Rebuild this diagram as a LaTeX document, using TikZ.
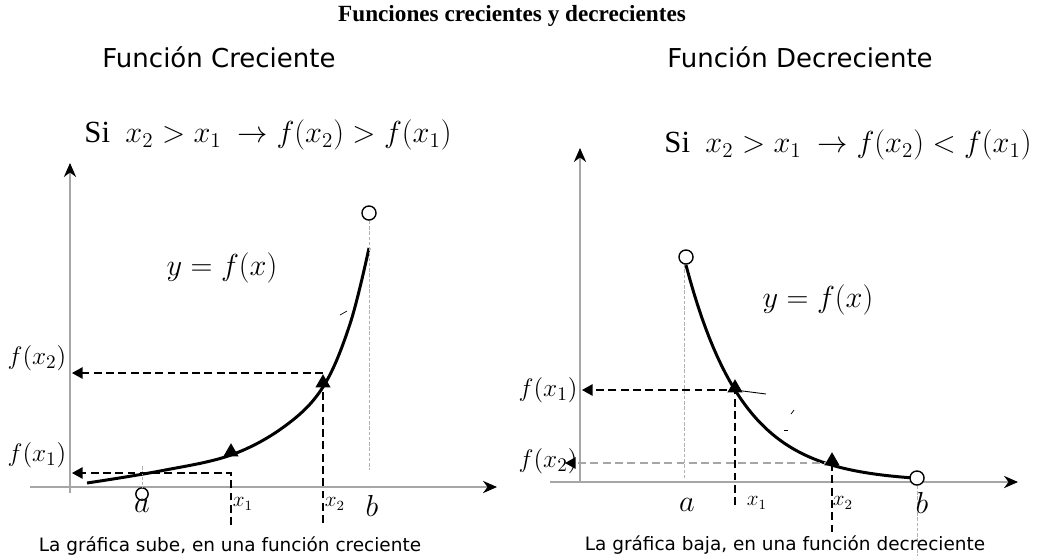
\documentclass[tikz,border=0pt]{standalone}
\usepackage{fontspec}
\setmainfont{Liberation Serif}
\newfontfamily\verdana{DejaVu Sans}
\usetikzlibrary{arrows.meta,shapes.geometric}
\tikzset{
  eje/.style={gray!70,line width=0.6pt},
  punta/.style={-{Stealth[black,length=8pt,width=7pt]}},
  curva/.style={line width=1.7pt},
  guia/.style={dashed,dash pattern=on 4.5pt off 2.5pt,line width=0.7pt},
  guiagris/.style={gray!70,dashed,dash pattern=on 4.5pt off 2.5pt,line width=0.7pt},
  punteada/.style={gray!60,dash pattern=on 2pt off 1pt,line width=0.4pt},
  flecha/.style={-{Triangle[black,length=6pt,width=6.5pt]}},
  marca/.style={regular polygon,regular polygon sides=3,fill,inner sep=0pt,minimum size=10pt},
  hueco/.style={circle,draw,line width=0.8pt,fill=white,inner sep=0pt,minimum size=8pt},
  encabezado/.style={font=\verdana\fontsize{14.8}{17}\selectfont},
  pie/.style={font=\verdana\fontsize{10.5}{12}\selectfont},
  regla/.style={font=\fontsize{17.5}{20}\selectfont},
  etiq/.style={font=\fontsize{16.5}{19}\selectfont},
  sub/.style={font=\fontsize{12}{14}\selectfont,inner sep=1pt},
  fx/.style={font=\fontsize{15}{17}\selectfont,inner sep=1pt}
}
\begin{document}
\begin{tikzpicture}[x=0.02cm,y=-0.02cm]
\useasboundingbox (0,0) rectangle (1051,556);
\node[font=\bfseries\fontsize{13.2}{15}\selectfont] (titulo) at (512,16) {Funciones crecientes y decrecientes};

% creciente
\node[encabezado] (tcre) at (219,57) {Función Creciente};
\node[regla] (sicre) at (268,135) {Si\ \ $x_2 > x_1\ \rightarrow f(x_2) > f(x_1)$};
\coordinate (ci0) at (70,493);
\coordinate (ci1) at (70,163);
\coordinate (di0) at (30,487);
\coordinate (di1) at (497,487);
\draw[eje,punta] (ci0) -- (ci1);
\draw[eje,punta] (di0) -- (di1);
\draw[curva] plot[smooth,tension=0.6] coordinates {(87,483) (160,471) (231,455) (285,426) (323,387) (350,324) (369,248)};
\draw[line width=0.4pt] (340,315) -- (347,311);
\node[hueco] (bcre) at (369,213) {};
\coordinate (bcre0) at (369,470);
\draw[punteada] (bcre) -- (bcre0);
\node[hueco,minimum size=7pt] (acre) at (142,494) {};
\coordinate (acre0) at (142,466);
\draw[punteada] (acre0) -- (acre);
\coordinate (qa1) at (231,473);
\coordinate (qa1b) at (231,525);
\coordinate (fa1) at (72,473);
\draw[guia,flecha] (qa1b) -- (qa1) -- (fa1);
\coordinate (qa2) at (323,373);
\coordinate (qa2b) at (323,523);
\coordinate (fa2) at (72,373);
\draw[guia] (qa2b) -- (323,387);
\draw[guia,flecha] (qa2) -- (fa2);
\node[marca] (ma1) at (231,452) {};
\node[marca] (ma2) at (323,383) {};
\node[fx] (lfa2) at (37,358) {$f(x_2)$};
\node[fx] (lfa1) at (37,455) {$f(x_1)$};
\node[etiq] (la) at (142,506) {$a$};
\node[sub] (lx1) at (243,504) {$x_1$};
\node[sub] (lx2) at (335,504) {$x_2$};
\node[etiq] (lb) at (372,506) {$b$};
\node[regla] (ycre) at (222,268) {$y = f(x)$};
\node[pie] (pcre) at (230,546) {La gráfica sube, en una función creciente};

% decreciente
\node[encabezado] (tdec) at (800,57) {Función Decreciente};
\node[regla] (sidec) at (848,145) {Si\ \ $x_2 > x_1\ \rightarrow f(x_2) < f(x_1)$};
\coordinate (cd0) at (580,482);
\coordinate (cd1) at (580,148);
\coordinate (dd0) at (550,482);
\coordinate (dd1) at (1018,482);
\draw[eje,punta] (cd0) -- (cd1);
\draw[eje,punta] (dd0) -- (dd1);
\coordinate (adec0) at (684,478);
\draw[punteada] (684,264) -- (adec0);
\coordinate (bdec0) at (917,556);
\draw[curva] plot[domain=686:917,samples=60] (\x,{482-92*exp(-0.0175*(\x-735))});
\node[hueco] (adec) at (686,257) {};
\node[hueco] (bdec) at (917,478) {};
\draw[punteada] (bdec) -- (bdec0);
\coordinate (qd1) at (735,390);
\coordinate (qd1b) at (735,505);
\coordinate (fd1) at (582,390);
\draw[guia,flecha] (qd1b) -- (qd1) -- (fd1);
\draw[line width=0.5pt] (qd1) -- (766,394);
\coordinate (qd2) at (832,463);
\coordinate (qd2b) at (832,532);
\coordinate (fd2) at (565,463);
\draw[guiagris,flecha] (qd2) -- (fd2);
\draw[guia] (qd2) -- (qd2b);
\draw[line width=0.4pt] (791,414) -- (794,410);
\draw[line width=0.4pt] (784,430) -- (788,430);
\node[marca] (md1) at (735,388) {};
\node[marca] (md2) at (832,461) {};
\node[fx] (lfd1) at (548,390) {$f(x_1)$};
\node[fx] (lfd2) at (548,461) {$f(x_2)$};
\node[etiq] (lad) at (687,505) {$a$};
\node[sub] (lx1d) at (757,503) {$x_1$};
\node[sub] (lx2d) at (843,503) {$x_2$};
\node[etiq] (lbd) at (922,503) {$b$};
\node[regla] (ydec) at (818,300) {$y = f(x)$};
\node[pie] (pdec) at (785,545) {La gráfica baja, en una función decreciente};
\end{tikzpicture}
\end{document}
